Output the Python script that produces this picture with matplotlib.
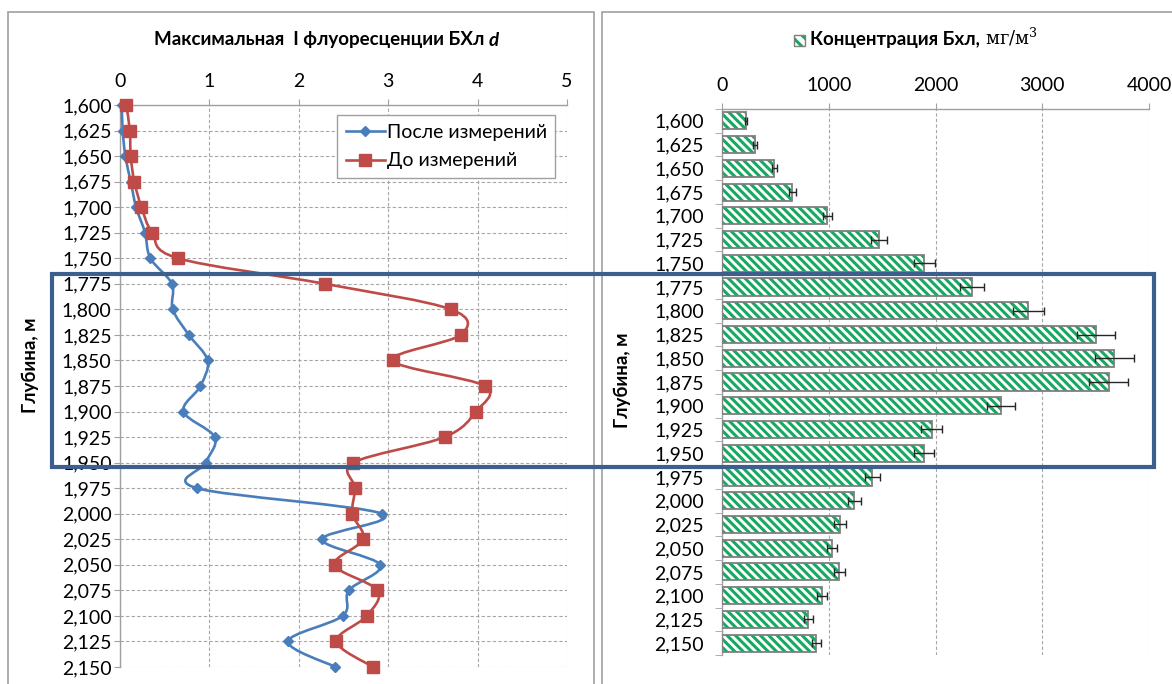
import numpy as np
import matplotlib
matplotlib.use("Agg")
import matplotlib.pyplot as plt
from matplotlib.path import Path
from matplotlib.patches import PathPatch, Rectangle
from matplotlib.lines import Line2D

plt.rcParams['font.family'] = ['Lato', 'Roboto', 'DejaVu Sans']
plt.rcParams['mathtext.fontset'] = 'dejavuserif'
plt.rcParams['hatch.linewidth'] = 2.2

# ---- data ----
depth = [1.600, 1.625, 1.650, 1.675, 1.700, 1.725, 1.750, 1.775, 1.800, 1.825,
         1.850, 1.875, 1.900, 1.925, 1.950, 1.975, 2.000, 2.025, 2.050, 2.075,
         2.100, 2.125, 2.150]
depth_labels = ["1,600", "1,625", "1,650", "1,675", "1,700", "1,725", "1,750",
                "1,775", "1,800", "1,825", "1,850", "1,875", "1,900", "1,925",
                "1,950", "1,975", "2,000", "2,025", "2,050", "2,075", "2,100",
                "2,125", "2,150"]
fluor_after = [0.02, 0.03, 0.06, 0.12, 0.18, 0.28, 0.34, 0.58, 0.59, 0.77,
               0.98, 0.90, 0.71, 1.06, 0.96, 0.86, 2.93, 2.26, 2.91, 2.56,
               2.49, 1.88, 2.41]
fluor_before = [0.07, 0.11, 0.12, 0.16, 0.24, 0.36, 0.65, 2.29, 3.70, 3.81,
                3.05, 4.08, 3.98, 3.63, 2.61, 2.63, 2.60, 2.72, 2.40, 2.88,
                2.76, 2.42, 2.83]
chl_conc = [225, 312, 490, 659, 987, 1469, 1894, 2342, 2869, 3506, 3675, 3622,
            2612, 1966, 1888, 1409, 1241, 1106, 1031, 1100, 934, 809, 884]
chl_err = [12, 20, 25, 33, 45, 75, 100, 117, 146, 178, 183, 183, 133, 98, 94,
           70, 65, 56, 50, 55, 47, 40, 45]

W, H = 1172, 684
fig = plt.figure(figsize=(W / 100, H / 100), dpi=100)
fig.patch.set_facecolor('white')

BLUE = '#4A7EBB'
RED = '#BE4B48'
GREEN = '#17A862'
GRID = '#A6A6A6'
AXC = '#A0A0A0'
TICK_FS = 14
TITLE_FS = 13.5


def fx(px):
    return px / W


def fy(py):
    return 1 - py / H


def smooth_path(x, y):
    pts = np.column_stack([x, y]).astype(float)
    n = len(pts)
    verts = [pts[0]]
    codes = [Path.MOVETO]
    for i in range(n - 1):
        p0 = pts[i - 1] if i > 0 else pts[i]
        p1, p2 = pts[i], pts[i + 1]
        p3 = pts[i + 2] if i + 2 < n else pts[i + 1]
        verts += [p1 + (p2 - p0) / 6, p2 - (p3 - p1) / 6, p2]
        codes += [Path.CURVE4] * 3
    return Path(verts, codes)


# ---- left panel: fluorescence profiles ----
axL = fig.add_axes([fx(120), fy(667), fx(567 - 120), (667 - 105) / H])
axL.set_xlim(0, 5)
axL.set_ylim(depth[-1], depth[0])
for xs, col, mk, ms in [(fluor_after, BLUE, 'D', 5.5), (fluor_before, RED, 's', 8.5)]:
    axL.add_patch(PathPatch(smooth_path(xs, depth), facecolor='none',
                            edgecolor=col, lw=1.9, zorder=3, clip_on=False))
    axL.plot(xs, depth, linestyle='none', marker=mk, ms=ms, color=col,
             markeredgecolor=col, zorder=4, clip_on=False)

axL.set_xticks([0, 1, 2, 3, 4, 5])
axL.set_yticks(depth)
axL.set_yticklabels(depth_labels)
axL.xaxis.tick_top()
axL.tick_params(axis='x', which='both', top=True, bottom=False, length=4,
                color=AXC, labelsize=TICK_FS, pad=7)
axL.tick_params(axis='y', length=4, color=AXC, labelsize=TICK_FS, pad=2)
for s in ['right', 'bottom']:
    axL.spines[s].set_visible(False)
for s in ['left', 'top']:
    axL.spines[s].set_color(AXC)
    axL.spines[s].set_linewidth(1.0)
axL.grid(True, color=GRID, linestyle=(0, (3, 2)), linewidth=0.8)
axL.set_axisbelow(True)
axL.set_ylabel('Глубина, м', fontsize=13.5, fontweight='bold')
axL.yaxis.set_label_coords((39 - 120) / 447, (667 - 365) / 562)

handles = [Line2D([], [], color=BLUE, lw=1.9, marker='D', ms=5.5),
           Line2D([], [], color=RED, lw=1.9, marker='s', ms=8.5)]
leg = axL.legend(handles, ['После измерений', 'До измерений'],
                 loc='upper left', bbox_to_anchor=((337 - 120) / 447, (667 - 115) / 562),
                 borderaxespad=0, fancybox=False, framealpha=1, edgecolor=AXC,
                 fontsize=14, handlelength=2.0, handletextpad=0.1,
                 borderpad=0.45, labelspacing=0.6)
leg.get_frame().set_linewidth(1.0)

t1 = fig.text(fx(154), fy(40), 'Максимальная  I флуоресценции БХл ',
              fontsize=TITLE_FS, fontweight='bold', ha='left', va='center')
axL.annotate('d', xy=(1, 0), xycoords=t1, xytext=(0, 0),
             textcoords='offset points', fontsize=TITLE_FS, fontweight='bold',
             fontstyle='italic', ha='left', va='bottom')

# ---- right panel: chlorophyll concentration ----
axR = fig.add_axes([fx(722), fy(655), fx(1149 - 722), (655 - 109) / H])
pos = np.arange(len(depth))
axR.barh(pos, chl_conc, height=0.72, color='white', edgecolor=GREEN,
         hatch='\\\\\\\\', linewidth=0, zorder=2)
axR.barh(pos, chl_conc, height=0.72, color='none', edgecolor='#7F7F7F',
         linewidth=1.3, zorder=3)
axR.errorbar(chl_conc, pos, xerr=chl_err, fmt='none', ecolor='#262626',
             elinewidth=1.0, capsize=3, capthick=1.0, zorder=4)
axR.set_xlim(0, 4000)
axR.set_ylim(len(depth) - 0.5, -0.5)
axR.set_xticks([0, 1000, 2000, 3000, 4000])
axR.set_yticks(pos)
axR.set_yticklabels(depth_labels)
axR.set_yticks(np.arange(-0.5, len(depth), 1.0), minor=True)
axR.xaxis.tick_top()
axR.tick_params(axis='x', top=True, bottom=False, length=4.5, color=AXC,
                labelsize=TICK_FS, pad=6)
axR.tick_params(axis='y', which='major', length=0, labelsize=TICK_FS, pad=13)
axR.tick_params(axis='y', which='minor', length=5, color=AXC)
for s in ['right', 'bottom']:
    axR.spines[s].set_visible(False)
for s in ['left', 'top']:
    axR.spines[s].set_color(AXC)
    axR.spines[s].set_linewidth(1.0)
axR.xaxis.grid(True, color=GRID, linestyle=(0, (3, 2)), linewidth=0.8)
axR.set_axisbelow(True)
axR.set_ylabel('Глубина, м', fontsize=13.5, fontweight='bold')
axR.yaxis.set_label_coords((631 - 722) / 427, (655 - 380) / 546)

# title with a legend swatch
fig.add_artist(Rectangle((fx(794), fy(46)), fx(11), 11 / H, facecolor='white',
                         edgecolor=GREEN, hatch='\\\\\\', linewidth=0,
                         transform=fig.transFigure))
fig.add_artist(Rectangle((fx(794), fy(46)), fx(11), 11 / H, facecolor='none',
                         edgecolor='#7F7F7F', linewidth=1.0,
                         transform=fig.transFigure))
t2 = fig.text(fx(810), fy(40), 'Концентрация Бхл,', fontsize=TITLE_FS,
              fontweight='bold', ha='left', va='center')
axR.annotate('мг/м$^3$', xy=(1, 0), xycoords=t2, xytext=(4, 0),
             textcoords='offset points', fontsize=13, family='DejaVu Serif',
             ha='left', va='bottom')

# ---- frames ----
fig.add_artist(Rectangle((fx(8), -0.02), fx(586), (684 - 12) / H + 0.02,
                         facecolor='none', edgecolor=AXC, linewidth=1.2,
                         transform=fig.transFigure))
fig.add_artist(Rectangle((fx(602), -0.02), fx(600), (684 - 12) / H + 0.02,
                         facecolor='none', edgecolor=AXC, linewidth=1.2,
                         transform=fig.transFigure))
fig.add_artist(Rectangle((fx(52), fy(467)), fx(1154 - 52), (467 - 274) / H,
                         facecolor='none', edgecolor='#3C5F8E', linewidth=3.0,
                         transform=fig.transFigure, zorder=10))

fig.savefig('out.png', dpi=100)
